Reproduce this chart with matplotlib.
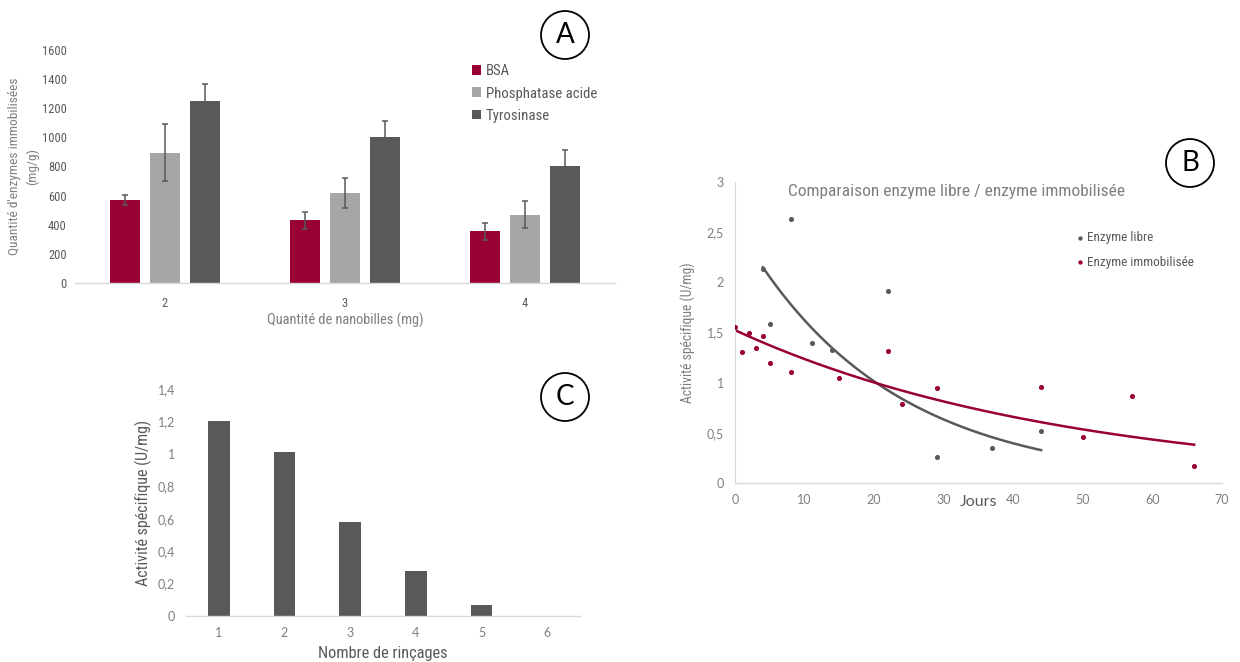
import numpy as np
import matplotlib
matplotlib.use("Agg")
import matplotlib.pyplot as plt
import matplotlib.font_manager as fm
from matplotlib.patches import Ellipse
from matplotlib.ticker import FuncFormatter

# ---- data ----
# Panel A
nano_qty = ["2", "3", "4"]
enzymes = ["BSA", "Phosphatase acide", "Tyrosinase"]
immob_mean = {
    "BSA": [570, 430, 355],
    "Phosphatase acide": [895, 620, 470],
    "Tyrosinase": [1250, 1000, 805],
}
immob_err = {
    "BSA": [32, 57, 60],
    "Phosphatase acide": [197, 103, 95],
    "Tyrosinase": [115, 113, 105],
}

# Panel B
libre_days = [4, 5, 8, 11, 14, 22, 29, 37, 44]
libre_act = [2.13, 1.58, 2.63, 1.40, 1.33, 1.91, 0.26, 0.35, 0.52]
immo_days = [0, 1, 2, 3, 4, 5, 8, 15, 22, 24, 29, 44, 50, 57, 66]
immo_act = [1.55, 1.31, 1.50, 1.35, 1.47, 1.20, 1.11, 1.05, 1.32, 0.79, 0.95, 0.96, 0.46, 0.87, 0.17]

# Panel C
rincages = [1, 2, 3, 4, 5, 6]
act_rinc = [1.20, 1.01, 0.58, 0.28, 0.07, 0.0]

# ---- style ----
RED = "#990033"
LGRAY = "#A6A6A6"
DGRAY = "#595959"
TXT = "#7F7F7F"
TXT2 = "#595959"
SPINE = "#D9D9D9"

names = {f.name for f in fm.fontManager.ttflist}
NARROW = None
for cand in ["Roboto Condensed", "Liberation Sans Narrow", "Open Sans Condensed"]:
    if cand in names:
        NARROW = dict(family=cand)
        break
if NARROW is None:
    NARROW = dict(family="DejaVu Sans", stretch="condensed")
WIDE = dict(family="Lato" if "Lato" in names else "DejaVu Sans")


def comma(v, pos):
    return ("%g" % round(v, 1)).replace(".", ",")


fig = plt.figure(figsize=(12.4, 6.62), dpi=100)
W, H = 1240, 662


def clean(ax, left=False):
    for s in ["top", "right"]:
        ax.spines[s].set_visible(False)
    ax.spines["left"].set_visible(left)
    ax.spines["left"].set_color(SPINE)
    ax.spines["bottom"].set_color(SPINE)
    ax.spines["bottom"].set_linewidth(1.0)
    ax.tick_params(length=0, colors=TXT, pad=8)


def circle_label(cx, cy, letter):
    r = 24
    e = Ellipse((cx / W, 1 - cy / H), 2 * r / W, 2 * r / H, transform=fig.transFigure,
                fill=False, edgecolor="black", linewidth=1.3)
    fig.add_artist(e)
    fig.text(cx / W, 1 - cy / H, letter, ha="center", va="center", fontsize=20,
             color="black", **WIDE)


# ---- Panel A ----
axA = fig.add_axes([75 / W, 1 - 283 / H, 540 / W, 233 / H])
xpos = np.arange(len(nano_qty))
colors = {"BSA": RED, "Phosphatase acide": LGRAY, "Tyrosinase": DGRAY}
bw = 0.165
step = 0.222
for i, name in enumerate(enzymes):
    axA.bar(xpos + (i - 1) * step, immob_mean[name], bw, color=colors[name], label=name,
            yerr=immob_err[name],
            error_kw=dict(ecolor=DGRAY, elinewidth=1.1, capsize=2.5, capthick=1.1),
            zorder=2)
axA.set_xlim(-0.5, 2.5)
axA.set_ylim(0, 1600)
axA.set_yticks(np.arange(0, 1601, 200))
axA.set_xticks(xpos)
axA.set_xticklabels(nano_qty)
clean(axA)
axA.tick_params(axis="y", pad=6)
axA.tick_params(axis="x", pad=10)
for lab in axA.get_xticklabels() + axA.get_yticklabels():
    lab.set_fontproperties(fm.FontProperties(size=9, **NARROW))
    lab.set_color(TXT2)
axA.set_xlabel("Quantité de nanobilles (mg)", fontsize=10.4, color=TXT, labelpad=2, **NARROW)
axA.set_ylabel("Quantité d'enzymes immobilisées\n(mg/g)", fontsize=9.6, color=TXT,
               linespacing=1.4, labelpad=2, **NARROW)
leg = axA.legend(loc="upper left", bbox_to_anchor=(0.71, 0.995), frameon=False,
                 prop=fm.FontProperties(size=10.6, **NARROW), handlelength=0.65, handleheight=0.65,
                 handletextpad=0.3, labelspacing=0.55)
for t in leg.get_texts():
    t.set_color(TXT2)
circle_label(565, 35, "A")

# ---- Panel B ----
axB = fig.add_axes([735 / W, 1 - 483 / H, 487 / W, 301 / H])
axB.scatter(libre_days, libre_act, s=7, color=DGRAY, label="Enzyme libre", zorder=3)
axB.scatter(immo_days, immo_act, s=7, color=RED, label="Enzyme immobilisée", zorder=3)

# exponential trendlines fitted on the data (Excel-style)
for xs, ys, col in [(libre_days, libre_act, DGRAY), (immo_days, immo_act, RED)]:
    xs = np.array(xs, float)
    b, lna = np.polyfit(xs, np.log(ys), 1)
    xx = np.linspace(xs.min(), xs.max(), 200)
    axB.plot(xx, np.exp(lna + b * xx), color=col, linewidth=1.8, zorder=2)

axB.set_xlim(0, 70)
axB.set_ylim(0, 3)
axB.set_xticks(np.arange(0, 71, 10))
axB.set_yticks(np.arange(0, 3.01, 0.5))
axB.yaxis.set_major_formatter(FuncFormatter(comma))
clean(axB, left=True)
for lab in axB.get_xticklabels() + axB.get_yticklabels():
    lab.set_fontproperties(fm.FontProperties(size=9, **WIDE))
    lab.set_color(TXT)
axB.set_xlabel("Jours", fontsize=11.5, color=TXT2, labelpad=-8, **WIDE)
axB.set_ylabel("Activité spécifique (U/mg)", fontsize=9.8, color=TXT, labelpad=8, **NARROW)
axB.text(0.454, 0.97, "Comparaison enzyme libre / enzyme immobilisée", transform=axB.transAxes,
         ha="center", va="center", fontsize=12.5, color=TXT, **NARROW)
legB = axB.legend(loc="upper left", bbox_to_anchor=(0.67, 0.875), frameon=False,
                  prop=fm.FontProperties(size=9.5, **NARROW), handletextpad=0.05,
                  markerscale=0.8, labelspacing=0.85, handlelength=1.0)
for t in legB.get_texts():
    t.set_color(TXT2)
circle_label(1190, 163, "B")

# ---- Panel C ----
axC = fig.add_axes([186 / W, 1 - 616 / H, 394 / W, 227 / H])
axC.bar(rincages, act_rinc, 0.33, color=DGRAY, zorder=2)
axC.set_xlim(0.5, 6.5)
axC.set_ylim(0, 1.4)
axC.set_xticks(rincages)
axC.set_yticks(np.arange(0, 1.41, 0.2))
axC.yaxis.set_major_formatter(FuncFormatter(comma))
clean(axC)
for lab in axC.get_xticklabels() + axC.get_yticklabels():
    lab.set_fontproperties(fm.FontProperties(size=9, **WIDE))
    lab.set_color(TXT)
axC.set_xlabel("Nombre de rinçages", fontsize=11.8, color=TXT2, labelpad=5, **NARROW)
axC.set_ylabel("Activité spécifique (U/mg)", fontsize=11.5, color=TXT2, labelpad=4, **NARROW)
circle_label(565, 397, "C")

fig.savefig("out.png", dpi=100, facecolor="white")
